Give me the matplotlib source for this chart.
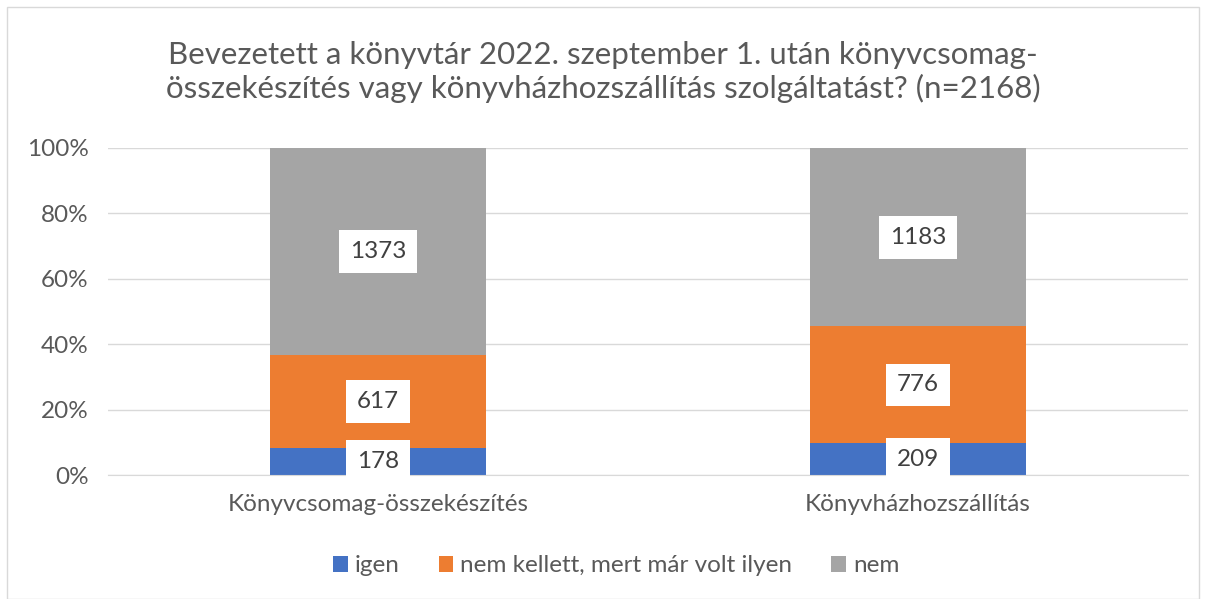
import matplotlib
matplotlib.use("Agg")
import matplotlib.pyplot as plt
import numpy as np
from matplotlib.patches import Rectangle

plt.rcParams['font.family'] = ['Lato', 'DejaVu Sans']

categories = ["Könyvcsomag-összekészítés", "Könyvházhozszállítás"]
series_names = ["igen", "nem kellett, mert már volt ilyen", "nem"]
igen = [178, 209]
nem_kellett = [617, 776]
nem = [1373, 1183]
colors = ["#4472C4", "#ED7D31", "#A5A5A5"]
yticks = [0, 20, 40, 60, 80, 100]
title = "Bevezetett a könyvtár 2022. szeptember 1. után könyvcsomag-\nösszekészítés vagy könyvházhozszállítás szolgáltatást? (n=2168)"

W, H = 1206, 599
fig = plt.figure(figsize=(W/100, H/100), dpi=100)
fig.patches.append(Rectangle((7/W, 0), (W-14)/W, 1-7/H, transform=fig.transFigure,
                             fill=False, edgecolor="#D9D9D9", linewidth=1))

ax = fig.add_axes([108/W, 1-475/H, (1188-108)/W, (475-148)/H])
data = np.array([igen, nem_kellett, nem], dtype=float)
totals = data.sum(axis=0)
pct = data / totals * 100
x = np.arange(len(categories))
bottom = np.zeros(len(categories))
for i, name in enumerate(series_names):
    ax.bar(x, pct[i], 0.4, bottom=bottom, color=colors[i], label=name, zorder=2)
    for j in range(len(categories)):
        ax.text(x[j], bottom[j] + pct[i][j]/2, f"{int(data[i][j])}", ha="center", va="center",
                fontsize=17.5, color="#404040", zorder=4,
                bbox=dict(boxstyle="square,pad=0.45", facecolor="white", edgecolor="none"))
    bottom += pct[i]

ax.set_xlim(-0.5, 1.5)
ax.set_ylim(0, 100)
ax.set_yticks(yticks)
ax.set_yticklabels([f"{t}%" for t in yticks], fontsize=17.5, color="#595959")
ax.set_xticks(x)
ax.set_xticklabels(categories, fontsize=17.5, color="#595959")
ax.tick_params(axis='y', length=0, pad=14)
ax.tick_params(axis='x', length=0, pad=14)
ax.grid(axis='y', color="#D9D9D9", linewidth=1, zorder=0)
for s in ["top", "right", "left"]:
    ax.spines[s].set_visible(False)
ax.spines["bottom"].set_color("#D9D9D9")

fig.text(0.5, 1-72/H, title, ha="center", va="center", fontsize=22.5, color="#595959",
         linespacing=1.2)

leg = fig.legend(loc="center", bbox_to_anchor=(0.511, 1-566/H), ncol=3, frameon=False,
                 fontsize=17.5, handlelength=0.6, handleheight=0.6, columnspacing=1.6,
                 handletextpad=0.3)
for t in leg.get_texts():
    t.set_color("#595959")

fig.savefig("out.png", dpi=100)
